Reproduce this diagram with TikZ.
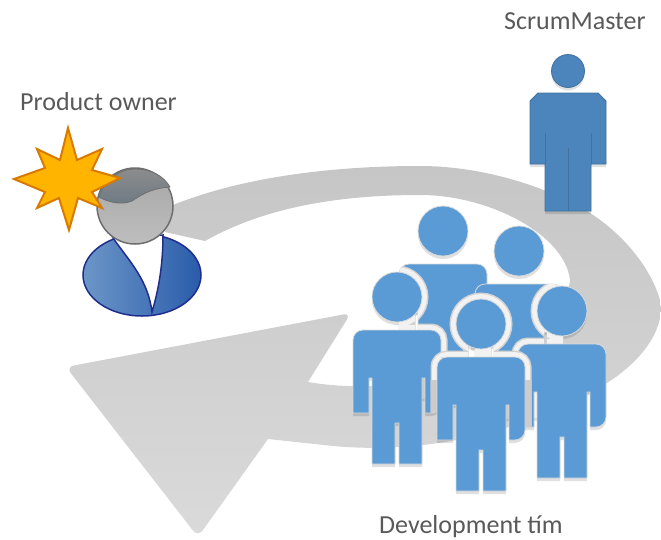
\documentclass[tikz,border=0pt]{standalone}
\usepackage{fontspec}
\setmainfont{Carlito}
\definecolor{bandtop}{HTML}{C6C6C6}
\definecolor{bandlow}{HTML}{DADADA}
\definecolor{teamblue}{HTML}{5B9BD5}
\definecolor{masterblue}{HTML}{4C85BC}
\definecolor{masteredge}{HTML}{41719C}
\definecolor{labelgray}{HTML}{595959}
\definecolor{suitedge}{HTML}{1F2E8C}
\definecolor{suitlight}{HTML}{6C96C8}
\definecolor{suitdark}{HTML}{2A5CAA}
\definecolor{headedge}{HTML}{6E6E6E}
\definecolor{headtop}{HTML}{A6A6A6}
\definecolor{headlow}{HTML}{BEBEBE}
\definecolor{hairtop}{HTML}{8C8C8C}
\definecolor{hairlow}{HTML}{6C7A84}
\definecolor{starfill}{HTML}{FFB400}
\definecolor{staredge}{HTML}{D87A00}
% One team member, head centre at #1,#2
\newcommand{\teamfig}[2]{
    (#1,#2) circle[radius=25]
    (#1-44,#2+116) [rounded corners=10]-- (#1-44,#2+33) -- (#1+44,#2+33) -- (#1+44,#2+116) [sharp corners]
    -- (#1+28,#2+116) -- (#1+28,#2+81) -- (#1+25,#2+81) -- (#1+25,#2+167) -- (#1+2,#2+167) -- (#1+2,#2+126)
    -- (#1-2,#2+126) -- (#1-2,#2+167) -- (#1-25,#2+167) -- (#1-25,#2+81) -- (#1-28,#2+81) -- (#1-28,#2+116) -- cycle
}
\begin{document}
\begin{tikzpicture}[
        x=1pt, y=1pt, yscale=-1,
        label/.style={font=\fontsize{26}{26}\selectfont, text=labelgray, anchor=base west, inner sep=0pt},
        member/.style={fill=teamblue, draw=gray!30, line width=0.8pt},
        ring/.style={draw=gray!35, line width=13pt},
        ringin/.style={draw=gray!10, line width=10pt},
        ringlow/.style={draw=bandtop!90!white, line width=13pt},
        dropshade/.style={fill=black, opacity=0.12}
    ]
        \useasboundingbox (0,0) rectangle (661,539);

        % Big curved arrow
        \shade[top color=bandtop, bottom color=bandlow, draw=none]
            (165,232) -- (173,205) .. controls (235,180) and (320,166) .. (420,166)
            .. controls (480,166) and (545,185) .. (590,213)
            .. controls (620,232) and (650,265) .. (660,300)
            .. controls (666,330) and (640,362) .. (607,383)
            .. controls (530,430) and (430,455) .. (333,446)
            -- (268,439) [rounded corners=8] -- (198,537) -- (66,367) -- (351,313) [sharp corners]
            -- (308,382) .. controls (400,398) and (560,370) .. (570,280)
            .. controls (565,235) and (490,195) .. (420,195)
            .. controls (330,195) and (260,210) .. (205,241) -- cycle;

        % Development team
        \foreach \hx/\hy in {443/231, 519/251, 562/311, 397/297, 481/324} {
            \path[dropshade, yshift=3pt] \teamfig{\hx}{\hy};
        }
        \path[member] \teamfig{443}{231};
        \path[member] \teamfig{519}{251};
        \begin{scope}
            \clip \teamfig{443}{231} \teamfig{519}{251};
            \path[ring] \teamfig{562}{311};
            \path[ringin] \teamfig{562}{311};
        \end{scope}
        \path[member] \teamfig{562}{311};
        \begin{scope}
            \clip \teamfig{443}{231} \teamfig{519}{251} \teamfig{562}{311};
            \path[ring] \teamfig{397}{297};
            \path[ringin] \teamfig{397}{297};
            \clip (300,375) rectangle (661,539);
            \path[ringlow] \teamfig{397}{297};
        \end{scope}
        \path[member] \teamfig{397}{297};
        \begin{scope}
            \clip \teamfig{443}{231} \teamfig{519}{251} \teamfig{562}{311} \teamfig{397}{297};
            \path[ring] \teamfig{481}{324};
            \path[ringin] \teamfig{481}{324};
            \clip (300,380) rectangle (661,539);
            \path[ringlow] \teamfig{481}{324};
        \end{scope}
        \path[member] \teamfig{481}{324};

        % ScrumMaster
        \fill[dropshade, yshift=3pt] (568,71) circle[radius=16.5]
            (530,164) -- (530,101) -- (538,93) -- (598,93) -- (606,101) -- (606,164) -- (591,164) -- (591,211) -- (545,211) -- (545,164) -- cycle;
        \filldraw[fill=masterblue, draw=masteredge, line width=0.8pt] (568,71) circle[radius=16.5];
        \filldraw[fill=masterblue, draw=masteredge, line width=0.8pt]
            (530,164) -- (530,101) -- (538,93) -- (598,93) -- (606,101) -- (606,164) -- (591,164) -- (591,211) -- (545,211) -- (545,164) -- cycle;
        \draw[masteredge, line width=0.8pt] (545,164) -- (545,133) (591,164) -- (591,133) (568,211) -- (568,148);

        % Product owner
        \shade[left color=suitlight, right color=suitdark, draw=suitedge, line width=1.5pt]
            (142,275) ellipse[x radius=59, y radius=41];
        \filldraw[fill=white, draw=suitedge, line width=1.5pt]
            (113,238) .. controls (130,262) and (148,280) .. (152,312) .. controls (160,285) and (163,260) .. (163,235) -- cycle;
        \shade[top color=headtop, bottom color=headlow, draw=headedge, line width=1.5pt]
            (135,206) circle[radius=38];
        \shade[top color=hairtop, bottom color=hairlow, draw=headedge, line width=0.8pt]
            (99,197) .. controls (106,178) and (120,169) .. (135,169) .. controls (150,169) and (163,175) .. (170,187)
            .. controls (155,188) and (145,192) .. (132,201) .. controls (122,205) and (110,203) .. (99,197) -- cycle;

        % Star
        \filldraw[fill=starfill, draw=staredge, line width=2pt, line join=miter]
            (68,128) -- (77,160) -- (102,149) -- (92,170) -- (120,178) -- (92,192) -- (102,208) -- (78,198)
            -- (69,230) -- (59,198) -- (37,208) -- (45,192) -- (14,179) -- (45,168) -- (37,149) -- (60,160) -- cycle;

        % Labels
        \node[label] (owner) at (20,110) {Product owner};
        \node[label] (master) at (504,29) {ScrumMaster};
        \node[label] (team) at (379,533) {Development tím};
    \end{tikzpicture}
\end{document}
